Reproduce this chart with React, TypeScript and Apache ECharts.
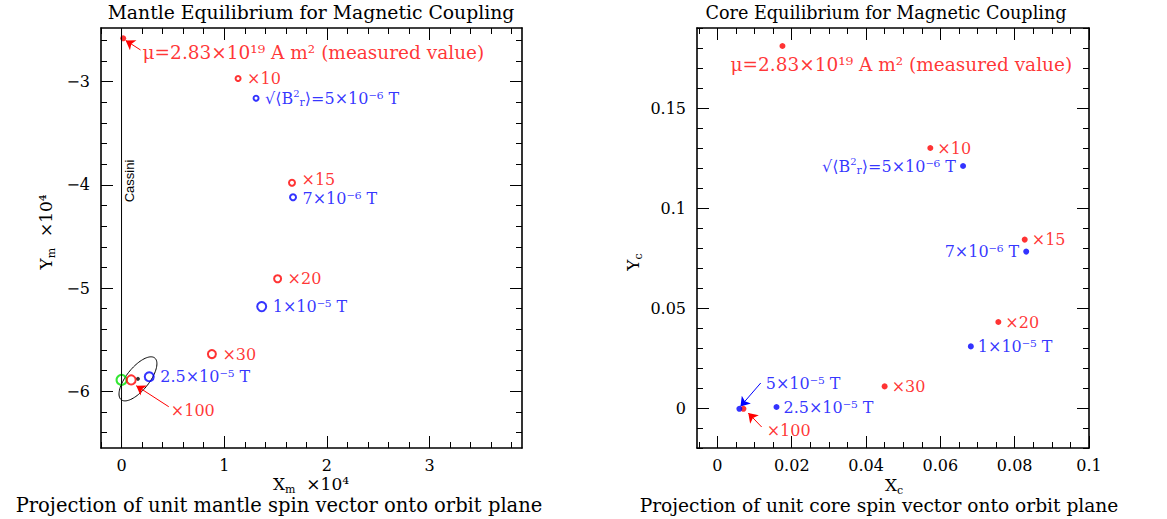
import React, { useEffect, useRef } from "react";
import * as echarts from "echarts";

const FONT = "DejaVu Serif";
const RED = "#ff0000";
const BLUE = "#0000ff";
const GREEN = "#00e000";
const BLACK = "#000000";

// ---------- Mantle panel (values in units of 1e-4) ----------
const mantleXRange = [-0.2, 3.9];
const mantleYRange = [-6.55, -2.48];
const mantleXMajor = [0, 1, 2, 3];
const mantleYMajor = [-6, -5, -4, -3];
const mantleMeasured = [[0.016, -2.58]];
const mantleScaledMu = [
  [1.135, -2.97],
  [1.66, -3.98],
  [1.52, -4.91],
  [0.88, -5.64],
  [0.094, -5.89],
];
const mantleScaledMuLabels = ["×10", "×15", "×20", "×30", ""];
const mantleField = [
  [1.31, -3.16],
  [1.67, -4.12],
  [1.365, -5.18],
  [0.27, -5.86],
];
const SQRT_LABEL = "{n|√⟨B}{sup|2}{sub|r}{n|⟩=5×10⁻⁶ T}";
const mantleFieldLabels = [SQRT_LABEL, "7×10⁻⁶ T", "1×10⁻⁵ T", "2.5×10⁻⁵ T"];
const mantleGreen = [[0.0, -5.89]];
const mantleEllipseCenter = [[0.16, -5.88]];
const mantleEllipseAxes = [0.26, 0.11];
const mantleEllipseTiltDeg = 51;
const cassiniLine = [
  [0, -6.55],
  [0, -2.48],
];
const mantleArrowFrom = [
  [0.185, -2.693],
  [0.46, -6.15],
];
const mantleArrowTo = [
  [0.04, -2.6],
  [0.143, -5.946],
];
const mantleArrowText = ["μ=2.83×10¹⁹ A m² (measured value)", "×100"];

// ---------- Core panel ----------
const coreXRange = [-0.0055, 0.1];
const coreYRange = [-0.02, 0.19];
const coreXMajor = [0, 0.02, 0.04, 0.06, 0.08, 0.1];
const coreYMajor = [0, 0.05, 0.1, 0.15];
const coreMeasured = [[0.0175, 0.181]];
const coreScaledMu = [
  [0.0573, 0.13],
  [0.0827, 0.0842],
  [0.0756, 0.043],
  [0.045, 0.0108],
  [0.007, -0.0004],
];
const coreScaledMuLabels = ["×10", "×15", "×20", "×30", ""];
const coreField = [
  [0.0661, 0.121],
  [0.0831, 0.0782],
  [0.0682, 0.0308],
  [0.0159, 0.0005],
  [0.0059, -0.0004],
];
const coreFieldLabels = [SQRT_LABEL, "7×10⁻⁶ T", "1×10⁻⁵ T", "2.5×10⁻⁵ T", ""];
const coreFieldLabelSide = ["left", "left", "right", "right", "right"];
const coreArrowFrom = [
  [0.01165, 0.0125],
  [0.0119, -0.0095],
];
const coreArrowTo = [
  [0.0062, 0.0008],
  [0.0083, -0.0025],
];
const coreArrowText = ["5×10⁻⁵ T", "×100"];
const coreArrowColors = [BLUE, RED];
const mantleArrowColors = [RED, RED];
const MEASURED_TEXT = "μ=2.83×10¹⁹ A m² (measured value)";

// minor tick helpers
function steps(start: number, end: number, step: number) {
  const out: number[] = [];
  const n = Math.round((end - start) / step);
  for (let i = 0; i <= n; i++) out.push(Number((start + i * step).toFixed(6)));
  return out;
}
const mantleXMinor = steps(-0.2, 3.8, 0.2);
const mantleYMinor = steps(-6.4, -2.6, 0.2);
const coreXMinor = steps(-0.005, 0.1, 0.005);
const coreYMinor = steps(-0.02, 0.19, 0.01);

const rich = (color: string, size = 16) => ({
  n: { fontSize: size, fontFamily: FONT, color, lineHeight: size + 4 },
  sup: { fontSize: 10, fontFamily: FONT, color, verticalAlign: "top", lineHeight: 10 },
  sub: { fontSize: 11, fontFamily: FONT, color, verticalAlign: "bottom", lineHeight: 10 },
});

const fmt = (v: number) => {
  const s = String(Number(v.toFixed(4)));
  return s.startsWith("-") ? "−" + s.slice(1) : s;
};

function axes(kind: "x" | "y", grid: number, range: number[], major: number[], minor: number[]) {
  const pos = kind === "x" ? ["bottom", "top"] : ["left", "right"];
  const base = {
    type: "value",
    gridIndex: grid,
    min: range[0],
    max: range[1],
    splitLine: { show: false },
    splitArea: { show: false },
  };
  const mk = (p: string, ticks: number[], len: number, line: boolean, label: boolean) => ({
    ...base,
    position: p,
    axisLine: { show: line, onZero: false, lineStyle: { color: BLACK, width: 1.6 } },
    axisTick: { show: true, inside: true, length: len, customValues: ticks, lineStyle: { color: BLACK, width: 1 } },
    axisLabel: {
      show: label,
      customValues: major,
      formatter: (v: number) => fmt(v),
      color: BLACK,
      fontSize: 16,
      fontFamily: FONT,
      margin: kind === "x" ? 9 : 11,
    },
  });
  return [
    mk(pos[0], major, 12, true, true),
    mk(pos[0], minor, 6, false, false),
    mk(pos[1], major, 12, true, false),
    mk(pos[1], minor, 6, false, false),
  ];
}

function textEl(text: string, x: number, y: number, opts: any = {}) {
  const size = opts.fontSize || 16;
  return {
    type: "text",
    x,
    y,
    rotation: opts.rotation || 0,
    style: {
      text,
      fill: opts.color || BLACK,
      fontSize: size,
      fontFamily: opts.fontFamily || FONT,
      align: "center",
      verticalAlign: "middle",
      textAlign: "center",
      textVerticalAlign: "middle",
      rich: rich(opts.color || BLACK, size),
    },
  };
}

export default function App() {
  const ref = useRef<HTMLDivElement>(null);
  useEffect(() => {
    if (!ref.current) return;
    const chart = echarts.init(ref.current, null, { renderer: "svg" });

    const xAxis = [
      ...axes("x", 0, mantleXRange, mantleXMajor, mantleXMinor),
      ...axes("x", 1, coreXRange, coreXMajor, coreXMinor),
    ];
    const yAxis = [
      ...axes("y", 0, mantleYRange, mantleYMajor, mantleYMinor),
      ...axes("y", 1, coreYRange, coreYMajor, coreYMinor),
    ];

    const labelBase = (color: string, size = 16) => ({
      show: true,
      position: "right",
      distance: 4,
      color,
      fontSize: size,
      lineHeight: size - 2,
      fontFamily: FONT,
      formatter: (p: any) => (p.data && p.data.text) || "",
      rich: rich(color),
    });

    const M = { xAxisIndex: 0, yAxisIndex: 0 };
    const C = { xAxisIndex: 4, yAxisIndex: 4 };

    const arrowSeries = (from: number[][], to: number[][], colors: string[], idx: any) =>
      from.map((f, i) => ({
        type: "lines",
        coordinateSystem: "cartesian2d",
        ...idx,
        symbol: ["none", "arrow"],
        symbolSize: 9,
        lineStyle: { color: colors[i], width: 1, opacity: 1, curveness: 0 },
        data: [{ coords: [f, to[i]] }],
        silent: true,
      }));

    const arrowLabelSeries = (
      from: number[][],
      texts: string[],
      colors: string[],
      idx: any,
      offsets: number[][],
      sizes: number[]
    ) =>
      from.map((f, i) => ({
        type: "scatter",
        ...idx,
        symbol: "circle",
        symbolSize: 0.1,
        itemStyle: { color: "transparent" },
        data: [{ value: f, text: texts[i] }],
        label: { ...labelBase(colors[i], sizes[i]), distance: 2, offset: offsets[i] },
        silent: true,
      }));

    const mantleSizes = [5, 6, 7, 8, 9];
    const mantleFieldSizes = [5, 6, 9, 9];
    const mantleRedLabelOffsets = [[0, 0], [0, -3], [0, 0], [0, 0], [0, 0]];
    const mantleBlueLabelOffsets = [[0, 0], [0, 1], [0, 0], [0, 0]];

    const series: any[] = [
      {
        type: "line",
        ...M,
        data: cassiniLine,
        showSymbol: false,
        lineStyle: { color: BLACK, width: 1 },
        silent: true,
      },
      {
        type: "custom",
        ...M,
        data: mantleEllipseCenter,
        silent: true,
        renderItem: (_p: any, api: any) => {
          const cx = api.value(0);
          const cy = api.value(1);
          const [a, b] = mantleEllipseAxes;
          const th = (mantleEllipseTiltDeg * Math.PI) / 180;
          const pts: number[][] = [];
          for (let k = 0; k <= 90; k++) {
            const t = (k / 90) * Math.PI * 2;
            const x = cx + a * Math.cos(th) * Math.cos(t) - b * Math.sin(th) * Math.sin(t);
            const y = cy + a * Math.sin(th) * Math.cos(t) + b * Math.cos(th) * Math.sin(t);
            pts.push(api.coord([x, y]));
          }
          return { type: "polygon", shape: { points: pts }, style: { fill: "none", stroke: BLACK, lineWidth: 1 } };
        },
      },
      {
        type: "scatter",
        ...M,
        data: mantleEllipseCenter,
        symbolSize: 4,
        itemStyle: { color: BLACK },
        silent: true,
      },
      {
        type: "scatter",
        ...M,
        data: mantleGreen,
        symbolSize: 10,
        itemStyle: { color: "none", borderColor: GREEN, borderWidth: 2 },
        silent: true,
      },
      {
        type: "scatter",
        ...M,
        data: mantleScaledMu.map((p, i) => ({
          value: p,
          text: mantleScaledMuLabels[i],
          symbolSize: mantleSizes[i],
          label: { offset: mantleRedLabelOffsets[i] },
        })),
        itemStyle: { color: "none", borderColor: RED, borderWidth: 2 },
        label: labelBase(RED),
        silent: true,
      },
      {
        type: "scatter",
        ...M,
        data: mantleField.map((p, i) => ({
          value: p,
          text: mantleFieldLabels[i],
          symbolSize: mantleFieldSizes[i],
          label: { offset: mantleBlueLabelOffsets[i] },
        })),
        itemStyle: { color: "none", borderColor: BLUE, borderWidth: 2 },
        label: labelBase(BLUE),
        silent: true,
      },
      {
        type: "scatter",
        ...M,
        data: mantleMeasured,
        symbolSize: 6,
        itemStyle: { color: RED },
        silent: true,
      },
      ...arrowSeries(mantleArrowFrom, mantleArrowTo, mantleArrowColors, M),
      ...arrowLabelSeries(mantleArrowFrom, mantleArrowText, mantleArrowColors, M, [[0, 3], [0, 4]], [18.5, 16]),

      // core panel
      {
        type: "scatter",
        ...C,
        data: coreMeasured.map((p) => ({ value: p, text: MEASURED_TEXT })),
        symbolSize: 6,
        itemStyle: { color: RED },
        label: { ...labelBase(RED, 18.5), position: "right", offset: [-59, 18] },
        silent: true,
      },
      {
        type: "scatter",
        ...C,
        data: coreScaledMu.map((p, i) => ({ value: p, text: coreScaledMuLabels[i] })),
        symbolSize: 6,
        itemStyle: { color: RED },
        label: labelBase(RED),
        silent: true,
      },
      {
        type: "scatter",
        ...C,
        data: coreField.map((p, i) => ({
          value: p,
          text: coreFieldLabels[i],
          label: { position: coreFieldLabelSide[i] },
        })),
        symbolSize: 6,
        itemStyle: { color: BLUE },
        label: labelBase(BLUE),
        silent: true,
      },
      ...arrowSeries(coreArrowFrom, coreArrowTo, coreArrowColors, C),
      ...arrowLabelSeries(coreArrowFrom, coreArrowText, coreArrowColors, C, [[3, 0], [3, 3]], [16, 16]),
    ];

    const graphic = [
      textEl("Mantle Equilibrium for Magnetic Coupling", 311, 12, { fontSize: 18.8 }),
      textEl("Core Equilibrium for Magnetic Coupling", 886, 13, { fontSize: 17.6 }),
      textEl("Projection of unit mantle spin vector onto orbit plane", 279, 505, { fontSize: 19.5 }),
      textEl("Projection of unit core spin vector onto orbit plane", 879, 505, { fontSize: 18.6 }),
      textEl("{n|X}{sub|m}{n|  ×10⁴}", 311, 484, { fontSize: 17 }),
      textEl("{n|X}{sub|c}", 894, 485, { fontSize: 17 }),
      textEl("{n|Y}{sub|m}{n|  ×10⁴}", 46, 232, { rotation: Math.PI / 2, fontSize: 17 }),
      textEl("{n|Y}{sub|c}", 633, 262, { rotation: Math.PI / 2, fontSize: 17 }),
      textEl("Cassini", 129, 181, { rotation: Math.PI / 2, fontFamily: "Liberation Sans", fontSize: 13 }),
    ];

    chart.setOption({
      animation: false,
      backgroundColor: "#ffffff",
      textStyle: { fontFamily: FONT },
      grid: [
        { left: 101, top: 28, width: 421, height: 420 },
        { left: 697, top: 28, width: 392, height: 420 },
      ],
      xAxis,
      yAxis,
      series,
      graphic,
    });
    return () => chart.dispose();
  }, []);
  return <div ref={ref} style={{ position: "absolute", left: 0, top: 0, width: 1167, height: 519 }} />;
}
